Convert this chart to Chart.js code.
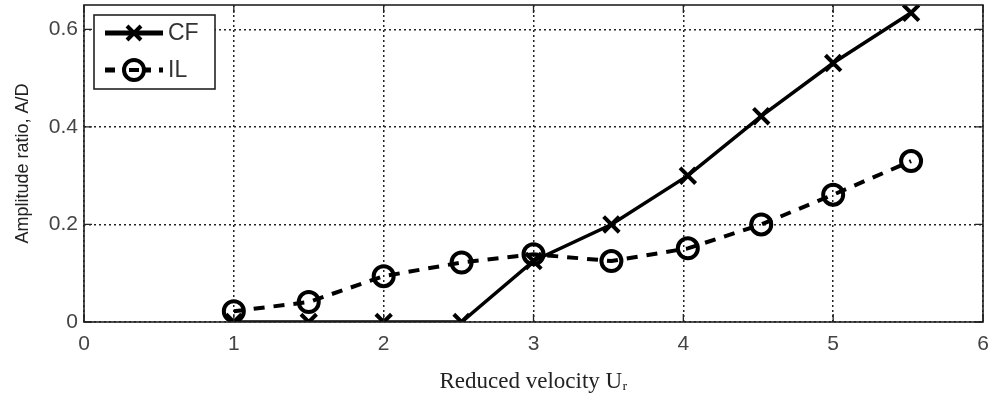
<!DOCTYPE html>
<html><head><meta charset="utf-8">
<script src="https://cdn.jsdelivr.net/npm/chart.js@4.4.0/dist/chart.umd.min.js"></script>
<style>html,body{margin:0;padding:0;background:#fff}#wrap{width:992px;height:400px}</style>
</head><body><div id="wrap"><canvas id="c"></canvas></div>
<script>
const seriesNames = ["CF", "IL"];
const velocity = [1, 1.5, 2, 2.52, 3, 3.52, 4.03, 4.52, 5, 5.52];
const cfValues = [0, 0, 0, 0, 0.125, 0.2, 0.3, 0.422, 0.531, 0.634];
const ilValues = [0.022, 0.041, 0.094, 0.122, 0.139, 0.125, 0.151, 0.2, 0.261, 0.33];
const xTicks = [0, 1, 2, 3, 4, 5, 6];
const yTicks = [0, 0.2, 0.4, 0.6];
const xTitle = "Reduced velocity U\u1D63";
const yTitle = "Amplitude ratio, A/D";

const frame = {
  id: 'frame',
  afterDraw(chart) {
    const {ctx, chartArea: a, scales} = chart;
    ctx.save();
    ctx.strokeStyle = '#222'; ctx.lineWidth = 1.6;
    ctx.strokeRect(a.left, a.top, a.right - a.left, a.bottom - a.top);
    ctx.lineWidth = 1.3;
    xTicks.forEach(v => { const x = scales.x.getPixelForValue(v);
      ctx.beginPath(); ctx.moveTo(x, a.bottom); ctx.lineTo(x, a.bottom - 8);
      ctx.moveTo(x, a.top); ctx.lineTo(x, a.top + 8); ctx.stroke(); });
    yTicks.forEach(v => { const y = scales.y.getPixelForValue(v);
      ctx.beginPath(); ctx.moveTo(a.left, y); ctx.lineTo(a.left + 8, y);
      ctx.moveTo(a.right, y); ctx.lineTo(a.right - 8, y); ctx.stroke(); });
    // legend
    const lx = a.left + 10, ly = a.top + 10, lw = 121, lh = 74;
    ctx.fillStyle = '#fff'; ctx.fillRect(lx, ly, lw, lh);
    ctx.strokeStyle = '#222'; ctx.lineWidth = 1.6; ctx.strokeRect(lx, ly, lw, lh);
    const ds = chart.data.datasets;
    const rows = [ly + 18, ly + 55];
    ds.forEach((d, i) => {
      const y = rows[i];
      ctx.strokeStyle = '#000'; ctx.lineWidth = 5;
      ctx.setLineDash(d.borderDash ? [10, 8] : []);
      ctx.beginPath(); ctx.moveTo(lx + 11, y); ctx.lineTo(lx + 69, y); ctx.stroke();
      ctx.setLineDash([]);
      const cx = lx + 40;
      ctx.lineWidth = d.pointBorderWidth;
      if (d.pointStyle === 'crossRot') {
        const r = 7;
        ctx.beginPath(); ctx.moveTo(cx - r, y - r); ctx.lineTo(cx + r, y + r);
        ctx.moveTo(cx - r, y + r); ctx.lineTo(cx + r, y - r); ctx.stroke();
      } else {
        ctx.fillStyle = '#fff';
        ctx.beginPath(); ctx.arc(cx, y, d.pointRadius, 0, Math.PI * 2); ctx.fill(); ctx.stroke();
        ctx.beginPath(); ctx.moveTo(cx - 5, y); ctx.lineTo(cx + 5, y); ctx.stroke();
      }
      ctx.fillStyle = '#333'; ctx.font = '23px "Liberation Sans", Arial, sans-serif';
      ctx.textAlign = 'left'; ctx.textBaseline = 'middle';
      ctx.fillText(d.label, lx + 74, y + 1);
    });
    ctx.restore();
  }
};

new Chart(document.getElementById('c'), {
  type: 'line',
  data: {
    datasets: [
      { label: seriesNames[0], data: velocity.map((x, i) => ({x, y: cfValues[i]})),
        borderColor: '#000', backgroundColor: '#000', borderWidth: 3.5,
        pointStyle: 'crossRot', pointRadius: 11, pointBorderWidth: 4, pointHitRadius: 0,
        pointBorderColor: '#000', pointBackgroundColor: '#000', tension: 0 },
      { label: seriesNames[1], data: velocity.map((x, i) => ({x, y: ilValues[i]})),
        borderColor: '#000', backgroundColor: 'rgba(0,0,0,0)', borderWidth: 4,
        borderDash: [11, 9],
        pointStyle: 'circle', pointRadius: 10, pointBorderWidth: 4, pointHitRadius: 0,
        pointBorderColor: '#000', pointBackgroundColor: 'rgba(0,0,0,0)', tension: 0 }
    ]
  },
  options: {
    responsive: true, maintainAspectRatio: false, animation: false,
    layout: { autoPadding: false, padding: { top: 5, right: 9, left: 0, bottom: 0 } },
    plugins: { legend: { display: false }, tooltip: { enabled: false } },
    scales: {
      x: {
        type: 'linear', min: 0, max: 6,
        afterBuildTicks: s => { s.ticks = xTicks.map(v => ({value: v})); },
        afterFit: s => { s.height = 78; s.paddingLeft = 0; s.paddingRight = 0; },
        grid: { color: '#222', lineWidth: 1.5, drawTicks: false },
        border: { display: false, dash: [2, 3] },
        ticks: { padding: 10, color: '#444', font: { family: '"Liberation Sans", Arial, sans-serif', size: 21 } },
        title: { display: true, text: xTitle, color: '#222', padding: { top: 4 },
                 font: { family: '"Liberation Serif", "Times New Roman", serif', size: 23 } }
      },
      y: {
        type: 'linear', min: 0, max: 0.65,
        afterBuildTicks: s => { s.ticks = yTicks.map(v => ({value: v})); },
        afterFit: s => { s.width = 84; s.paddingTop = 0; s.paddingBottom = 0; },
        grid: { color: '#222', lineWidth: 1.5, drawTicks: false },
        border: { display: false, dash: [2, 3] },
        ticks: { padding: 6, color: '#444', font: { family: '"Liberation Sans", Arial, sans-serif', size: 21 },
                 callback: v => String(v) },
        title: { display: true, text: yTitle, color: '#222', padding: { top: 12, bottom: 2 },
                 font: { family: '"Liberation Sans Narrow", "Liberation Sans", Arial, sans-serif', size: 18 } }
      }
    }
  },
  plugins: [frame]
});
</script></body></html>
